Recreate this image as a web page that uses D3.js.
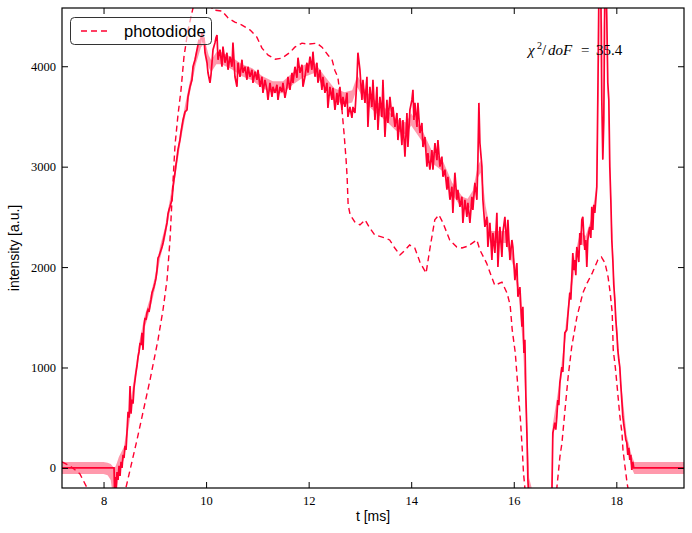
<!DOCTYPE html>
<html>
<head>
<meta charset="utf-8">
<script src="https://cdn.jsdelivr.net/npm/d3@7/dist/d3.min.js"></script>
<style>
  html, body { margin: 0; padding: 0; background: #fff; }
  svg { display: block; }
</style>
</head>
<body>
<svg id="chart" width="692" height="533"></svg>
<script>
// ---------------- data ----------------
const xTicks = [8, 10, 12, 14, 16, 18];
const yTicks = [0, 1000, 2000, 3000, 4000];
const legendLabel = "photodiode";
const xLabel = "t [ms]";
const yLabel = "intensity [a.u.]";
const chiValue = "35.4";

// measured signal [t (ms), intensity]
const signal = [
[7.19,0],[8.205,0],[8.215,-220],[8.224,-90],[8.244,-200],[8.263,-40],[8.283,-120],[8.302,20],[8.322,-80],[8.341,60],[8.361,0],[8.38,130],[8.40,100],[8.419,220],[8.439,180],[8.458,360],[8.478,560],[8.497,500],[8.517,815],[8.536,540],[8.556,680],[8.575,640],[8.595,800],[8.614,875],[8.634,955],[8.653,1015],[8.673,1105],[8.692,1155],[8.712,1245],[8.731,1225],[8.75,1345],[8.77,1175],[8.789,1415],[8.809,1495],[8.828,1475],[8.848,1545],[8.867,1575],[8.887,1555],[8.906,1615],[8.926,1675],[8.945,1745],[8.965,1775],[8.984,1805],[9.004,1845],[9.023,1890],[9.043,1970],[9.062,2090],[9.082,2110],[9.101,2140],[9.121,2170],[9.14,2200],[9.16,2240],[9.179,2290],[9.199,2340],[9.218,2390],[9.238,2440],[9.257,2530],[9.277,2570],[9.296,2600],[9.335,2670],[9.355,2790],[9.374,2870],[9.394,2940],[9.413,3020],[9.433,3090],[9.452,3170],[9.491,3270],[9.511,3345],[9.55,3465],[9.589,3545],[9.628,3565],[9.647,3695],[9.686,3795],[9.725,3865],[9.745,3995],[9.784,4065],[9.823,4165],[9.862,4265],[9.881,4215],[9.92,4335],[9.94,4235],[9.959,4285],[9.979,4135],[10.018,4035],[10.037,3935],[10.076,3835],[10.096,3915],[10.115,4035],[10.135,4165],[10.174,4235],[10.193,4285],[10.213,4310],[10.232,4065],[10.271,4165],[10.31,3995],[10.329,4195],[10.368,4035],[10.407,4135],[10.427,3965],[10.466,4095],[10.505,3995],[10.524,4235],[10.563,3895],[10.602,3795],[10.622,4035],[10.661,3895],[10.70,4065],[10.719,3935],[10.758,3995],[10.797,3865],[10.817,3995],[10.856,3895],[10.895,3965],[10.914,3835],[10.953,3945],[10.992,3865],[11.012,3965],[11.051,3795],[11.09,3895],[11.109,3735],[11.148,3865],[11.187,3765],[11.207,3665],[11.246,3835],[11.285,3695],[11.304,3795],[11.343,3735],[11.382,3815],[11.402,3665],[11.441,3795],[11.48,3745],[11.499,3835],[11.538,3685],[11.577,3795],[11.597,3895],[11.636,3765],[11.675,3935],[11.694,3835],[11.733,3995],[11.772,3885],[11.792,4085],[11.831,3935],[11.87,4015],[11.889,3795],[11.928,3895],[11.967,4035],[11.987,3935],[12.026,4095],[12.064,3965],[12.084,4145],[12.123,3895],[12.162,4035],[12.181,3835],[12.22,3965],[12.259,3765],[12.279,3895],[12.318,3735],[12.357,3835],[12.376,3585],[12.415,3795],[12.454,3665],[12.474,3785],[12.513,3565],[12.552,3735],[12.571,3615],[12.61,3795],[12.649,3565],[12.669,3695],[12.708,3595],[12.747,3735],[12.766,3495],[12.805,3595],[12.844,3485],[12.864,3595],[12.903,3535],[12.942,3865],[12.961,4135],[13.0,3965],[13.039,3665],[13.059,3865],[13.098,3635],[13.137,3895],[13.156,3395],[13.195,3795],[13.234,3595],[13.254,3865],[13.293,3465],[13.332,3795],[13.351,3365],[13.39,3695],[13.429,3495],[13.449,3865],[13.488,3295],[13.527,3665],[13.546,3435],[13.585,3695],[13.624,3495],[13.644,3595],[13.683,3395],[13.722,3535],[13.741,3265],[13.78,3485],[13.819,3215],[13.839,3465],[13.878,3100],[13.917,3535],[13.936,3195],[13.975,3565],[14.014,3665],[14.034,3765],[14.053,3465],[14.073,3635],[14.112,3395],[14.131,3635],[14.17,3335],[14.209,3435],[14.229,3195],[14.268,3295],[14.307,3000],[14.326,3135],[14.365,2970],[14.404,3165],[14.424,2970],[14.463,3235],[14.502,3065],[14.521,3265],[14.56,3000],[14.599,3100],[14.619,2900],[14.658,2970],[14.697,2770],[14.716,2900],[14.755,2670],[14.794,2800],[14.813,2540],[14.852,2940],[14.891,2670],[14.911,2770],[14.95,2600],[14.989,2700],[15.008,2440],[15.047,2670],[15.086,2500],[15.106,2640],[15.145,2440],[15.184,2700],[15.203,2570],[15.242,2840],[15.281,2670],[15.301,3070],[15.32,3635],[15.34,3235],[15.379,3000],[15.398,2670],[15.437,2400],[15.476,2500],[15.496,2200],[15.535,2440],[15.574,2070],[15.593,2340],[15.632,2140],[15.671,2540],[15.691,2000],[15.73,2400],[15.769,2100],[15.788,2340],[15.827,2500],[15.866,2200],[15.886,2470],[15.925,2070],[15.964,2270],[15.983,2200],[16.022,1870],[16.061,2040],[16.081,1705],[16.12,1800],[16.159,1405],[16.178,1605],[16.198,1145],[16.217,1275],[16.237,705],[16.256,350],[16.276,-120],[16.295,-320],
[16.50,-700],[16.742,-320],[16.762,350],[16.801,450],[16.82,380],[16.84,510],[16.859,675],[16.879,625],[16.898,845],[16.937,1005],[16.957,955],[16.996,1345],[17.035,1375],[17.054,1505],[17.093,1745],[17.113,1675],[17.132,1900],[17.152,2140],[17.171,1970],[17.191,2070],[17.21,1920],[17.23,2200],[17.249,2140],[17.269,2050],[17.288,2340],[17.308,2220],[17.327,2470],[17.347,2500],[17.366,2320],[17.386,2170],[17.405,2270],[17.425,2000],[17.444,2270],[17.464,2350],[17.483,2400],[17.503,2290],[17.522,2600],[17.542,2370],[17.561,2620],[17.581,2540],[17.60,2670],[17.62,2800],[17.639,3665],[17.659,4660],[17.678,4960],[17.698,4760],[17.717,3665],[17.737,3070],[17.756,3465],[17.776,4760],[17.795,4960],[17.815,4460],[17.834,3835],[17.854,3665],[17.873,3000],[17.893,2670],[17.912,2270],[17.932,2070],[17.951,1820],[17.971,1675],[17.99,1475],[18.01,1345],[18.029,1175],[18.049,1075],[18.068,1005],[18.088,825],[18.107,675],[18.127,510],[18.146,430],[18.166,360],[18.185,280],[18.205,250],[18.224,130],[18.244,200],[18.263,80],[18.283,130],[18.302,-20],[18.322,60],[18.341,0],[19.32,0]
];

// fit band: time, fitted value, uncertainty
const fitT   = [7.19, 8.00, 8.08, 8.14, 8.19, 8.22, 8.26, 8.30, 8.40, 8.50, 8.60, 8.70, 8.80, 8.90, 9.00, 9.10, 9.20, 9.30, 9.40, 9.50, 9.60, 9.70, 9.80, 9.90, 9.95, 10.00, 10.05, 10.10, 10.20, 10.30, 10.50, 10.70, 10.90, 11.10, 11.30, 11.50, 11.70, 11.90, 12.10, 12.30, 12.50, 12.70, 12.85, 12.95, 13.10, 13.30, 13.50, 13.70, 13.90, 14.00, 14.20, 14.40, 14.60, 14.80, 15.00, 15.10, 15.20, 15.30, 15.35, 15.45, 15.55, 15.70, 15.85, 16.00, 16.10, 16.18, 16.25, 16.30, 16.50, 16.74, 16.76, 16.90, 17.00, 17.10, 17.20, 17.30, 17.40, 17.50, 17.60, 17.65, 17.70, 17.74, 17.78, 17.84, 17.90, 17.95, 18.00, 18.10, 18.20, 18.30, 18.35, 19.32];
const fitV   = [0, 0, -10, -40, -150, -250, -100, 30, 150, 500, 850, 1200, 1450, 1620, 1840, 2140, 2340, 2630, 2960, 3300, 3580, 3830, 4080, 4250, 4280, 4150, 4050, 4000, 4080, 4080, 4030, 3960, 3920, 3840, 3790, 3790, 3880, 3950, 3990, 3850, 3720, 3680, 3700, 3850, 3700, 3600, 3520, 3420, 3380, 3470, 3320, 3100, 3020, 2780, 2640, 2620, 2700, 2950, 3000, 2550, 2300, 2300, 2300, 2050, 1750, 1300, 500, -200, -600, -300, 350, 820, 1300, 1750, 2080, 2300, 2250, 2400, 2700, 3800, 4900, 4000, 4900, 3700, 2600, 1900, 1450, 750, 270, 60, 0, 0];
const fitErr = [60, 60, 62, 80, 160, 250, 150, 80, 60, 60, 60, 60, 60, 60, 60, 60, 60, 60, 60, 60, 60, 60, 60, 60, 60, 60, 60, 60, 60, 60, 60, 60, 60, 60, 60, 60, 60, 60, 60, 60, 60, 60, 60, 60, 60, 60, 60, 60, 60, 60, 60, 60, 60, 60, 60, 60, 60, 60, 60, 60, 60, 60, 60, 60, 60, 80, 100, 100, 100, 100, 80, 60, 60, 60, 60, 60, 60, 60, 60, 60, 60, 60, 60, 60, 60, 60, 60, 60, 60, 60, 60, 60];

// photodiode reference [t (ms), intensity]
const photodiode = [
[7.19,60],[7.35,20],[7.54,-60],[7.70,-220],[7.83,-450],[8.13,-600],[8.36,-400],[8.44,-190],[8.653,280],[8.906,875],[9.062,1275],[9.16,1575],[9.238,1870],[9.296,2270],[9.335,2670],[9.394,3215],[9.452,3515],[9.511,3765],[9.569,4095],[9.647,4360],[9.745,4580],[9.88,4810],[10.02,4710],[10.13,4560],[10.31,4550],[10.43,4480],[10.56,4440],[10.70,4410],[10.86,4360],[10.99,4290],[11.09,4180],[11.21,4110],[11.35,4070],[11.48,4080],[11.64,4140],[11.73,4190],[11.87,4230],[11.99,4220],[12.16,4230],[12.26,4190],[12.38,4110],[12.46,4060],[12.51,3960],[12.57,3890],[12.65,3565],[12.69,3335],[12.73,3070],[12.75,2900],[12.77,2620],[12.81,2520],[12.90,2450],[13.00,2420],[13.10,2470],[13.19,2390],[13.29,2320],[13.49,2290],[13.58,2270],[13.68,2190],[13.78,2120],[13.88,2170],[13.97,2220],[14.07,2190],[14.17,2050],[14.29,1940],[14.37,2200],[14.46,2470],[14.54,2520],[14.62,2440],[14.75,2270],[14.89,2200],[14.99,2190],[15.11,2210],[15.28,2270],[15.34,2170],[15.47,2040],[15.57,1900],[15.63,1820],[15.68,1830],[15.77,1850],[15.87,1740],[15.93,1620],[15.97,1375],[16.03,1145],[16.08,805],[16.13,480],[16.17,150],[16.19,-50],[16.23,-270],[16.40,-900],[16.80,-700],[16.84,-200],[16.90,110],[16.94,250],[17.00,580],[17.06,905],[17.13,1205],[17.23,1500],[17.35,1745],[17.43,1840],[17.53,1940],[17.64,2070],[17.71,2100],[17.78,2040],[17.84,1900],[17.88,1745],[17.92,1545],[17.94,1175],[17.98,1005],[18.01,845],[18.07,510],[18.11,350],[18.13,180],[18.17,10],[18.21,-150],[18.25,-270],[18.35,-500]
];

// ---------------- drawing ----------------
const W = 692, H = 533;
const margin = {left: 62, right: 8, top: 8, bottom: 45};
const plotL = margin.left, plotR = W - margin.right, plotT = margin.top, plotB = H - margin.bottom;
const red = "#ff0030";

const svg = d3.select("#chart");
const x = d3.scaleLinear().domain([7.19, 19.32]).range([plotL, plotR]);
const y = d3.scaleLinear().domain([-200, 4580]).range([plotB, plotT]);

svg.append("defs").append("clipPath").attr("id", "clip")
  .append("rect").attr("x", plotL).attr("y", plotT)
  .attr("width", plotR - plotL).attr("height", plotB - plotT);

const g = svg.append("g").attr("clip-path", "url(#clip)");

// band
const fitData = fitT.map((t, i) => ({t, v: fitV[i], e: fitErr[i]}));
g.append("path")
  .datum(fitData)
  .attr("d", d3.area().x(d => x(d.t)).y0(d => y(d.v - d.e)).y1(d => y(d.v + d.e)))
  .attr("fill", red).attr("fill-opacity", 0.4).attr("stroke", "none");

// photodiode dashed
g.append("path")
  .datum(photodiode)
  .attr("d", d3.line().x(d => x(d[0])).y(d => y(d[1])))
  .attr("fill", "none").attr("stroke", red).attr("stroke-width", 1.4)
  .attr("stroke-dasharray", "6,4");

// signal
g.append("path")
  .datum(signal)
  .attr("d", d3.line().x(d => x(d[0])).y(d => y(d[1])))
  .attr("fill", "none").attr("stroke", red).attr("stroke-width", 1.7)
  .attr("stroke-linejoin", "miter").attr("stroke-miterlimit", 3);

// axes
const tickFont = "'Liberation Serif', 'DejaVu Serif', serif";
function styleAxis(sel, labels) {
  sel.select(".domain").remove();
  sel.selectAll(".tick line").attr("stroke", "#000").attr("stroke-width", 1);
  sel.selectAll(".tick text").attr("fill", "#000")
    .style("font-family", tickFont).style("font-size", "12.5px");
  if (!labels) sel.selectAll(".tick text").remove();
}
svg.append("g").attr("transform", `translate(0,${plotB})`)
  .call(d3.axisBottom(x).tickValues(xTicks).tickSize(-6).tickPadding(8).tickFormat(d3.format("d")))
  .call(s => styleAxis(s, true));
svg.append("g").attr("transform", `translate(0,${plotT})`)
  .call(d3.axisTop(x).tickValues(xTicks).tickSize(-6))
  .call(s => styleAxis(s, false));
svg.append("g").attr("transform", `translate(${plotL},0)`)
  .call(d3.axisLeft(y).tickValues(yTicks).tickSize(-6).tickPadding(6).tickFormat(d3.format("d")))
  .call(s => styleAxis(s, true));
svg.append("g").attr("transform", `translate(${plotR},0)`)
  .call(d3.axisRight(y).tickValues(yTicks).tickSize(-6))
  .call(s => styleAxis(s, false));

// frame
svg.append("rect").attr("x", plotL).attr("y", plotT)
  .attr("width", plotR - plotL).attr("height", plotB - plotT)
  .attr("fill", "none").attr("stroke", "#000").attr("stroke-width", 1.2);

// axis labels
const labelFont = "'Liberation Sans', Arial, sans-serif";
svg.append("text").attr("x", (plotL + plotR) / 2).attr("y", 521)
  .attr("text-anchor", "middle").style("font-family", labelFont).style("font-size", "14px")
  .text(xLabel);
svg.append("text").attr("transform", `translate(19,${(plotT + plotB) / 2}) rotate(-90)`)
  .attr("text-anchor", "middle").style("font-family", labelFont).style("font-size", "14px")
  .text(yLabel);

// chi^2 annotation
const chi = svg.append("text").attr("y", 55)
  .style("font-family", tickFont).style("font-size", "15px").attr("fill", "#000");
chi.append("tspan").attr("x", 528).style("font-style", "italic").text("χ");
chi.append("tspan").attr("x", 537).attr("dy", -6).style("font-size", "10px").text("2");
chi.append("tspan").attr("x", 542).attr("dy", 6).text("/");
chi.append("tspan").attr("x", 548).style("font-style", "italic").text("doF");
chi.append("tspan").attr("x", 581).text("=");
chi.append("tspan").attr("x", 596).text(chiValue);

// legend
const lg = svg.append("g");
lg.append("rect").attr("x", 70.5).attr("y", 17.5).attr("width", 141).attr("height", 27)
  .attr("rx", 4).attr("ry", 4)
  .attr("fill", "#fff").attr("fill-opacity", 0.6)
  .attr("stroke", "#333").attr("stroke-width", 1);
lg.append("line").attr("x1", 81).attr("x2", 107).attr("y1", 31).attr("y2", 31)
  .attr("stroke", red).attr("stroke-width", 1.4).attr("stroke-dasharray", "6,4");
lg.append("text").attr("x", 124).attr("y", 37)
  .style("font-family", labelFont).style("font-size", "16.5px").attr("fill", "#000")
  .text(legendLabel);
</script>
</body>
</html>
